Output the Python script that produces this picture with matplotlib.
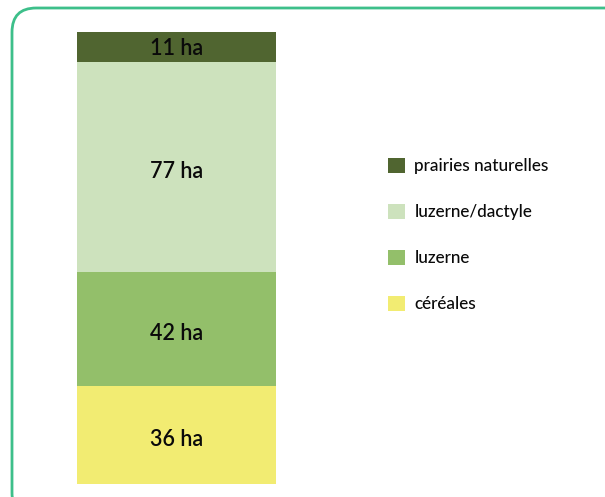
import matplotlib
matplotlib.use("Agg")
import matplotlib.pyplot as plt
from matplotlib.patches import FancyBboxPatch, Patch

categories = ["céréales", "luzerne", "luzerne/dactyle", "prairies naturelles"]
values = [36, 42, 77, 11]
labels = ["36 ha", "42 ha", "77 ha", "11 ha"]
colors = ["#f2ec72", "#93bf6a", "#cde2bd", "#506530"]

plt.rcParams['font.family'] = ['Lato', 'DejaVu Sans']

W, H = 605, 497
fig = plt.figure(figsize=(W / 100, H / 100), dpi=100)

# rounded frame
frame = FancyBboxPatch((12 / W, -20 / H), 620 / W, 509 / H,
                       boxstyle="round,pad=0,rounding_size=0.04",
                       transform=fig.transFigure, fill=False,
                       edgecolor="#3dbf8a", linewidth=2.0, clip_on=False,
                       mutation_aspect=W / H)
fig.patches.append(frame)

ax = fig.add_axes([77 / W, 13 / H, 199 / W, 452 / H])
bottom = 0
for v, lab, c in zip(values, labels, colors):
    ax.bar(0, v, bottom=bottom, width=1.0, color=c, edgecolor="none")
    ax.annotate(lab, (0, bottom + v / 2), xytext=(0, -3.5 if v > 20 else -1),
                textcoords="offset points", ha="center", va="center",
                fontsize=15.5, color="#0a0a0a", fontweight="semibold")
    bottom += v
ax.set_xlim(-0.5, 0.5)
ax.set_ylim(0, sum(values))
ax.axis("off")

handles = [Patch(facecolor=c, edgecolor="none", label=l)
           for c, l in zip(colors[::-1], categories[::-1])]
fig.legend(handles=handles, loc="upper left",
           bbox_to_anchor=(388 / W, 1 - 158 / H), frameon=False,
           prop={'size': 12.3, 'weight': 'medium'},
           handlelength=1.0, handleheight=1.0,
           handletextpad=0.55, labelspacing=1.72, borderpad=0,
           borderaxespad=0)
for t in fig.legends[0].get_texts():
    t.set_color("#0a0a0a")

fig.savefig("out.png", dpi=100)
